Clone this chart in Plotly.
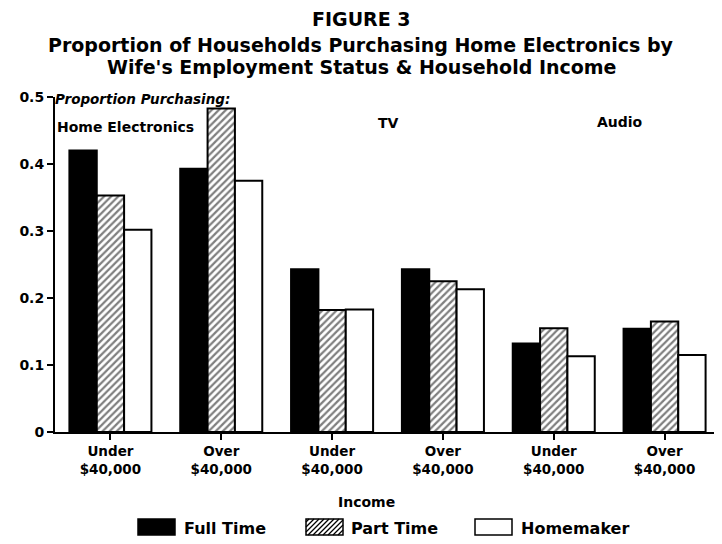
import plotly.graph_objects as go

# ---- data ----
groups = ["Home Electronics", "Home Electronics", "TV", "TV", "Audio", "Audio"]
income_labels = ["Under<br>$40,000", "Over<br>$40,000", "Under<br>$40,000",
                 "Over<br>$40,000", "Under<br>$40,000", "Over<br>$40,000"]
full_time = [0.42, 0.393, 0.243, 0.243, 0.132, 0.154]
part_time = [0.353, 0.483, 0.182, 0.225, 0.155, 0.165]
homemaker = [0.302, 0.375, 0.183, 0.213, 0.113, 0.115]
y_ticks = [0, 0.1, 0.2, 0.3, 0.4, 0.5]

FONT = "DejaVu Sans"
OFF = 8  # page body margin
W, H = 714, 536
L, R, T, B = 47, 2, 89, 112
PW, PH = W - L - R, H - T - B

def px(x):
    return (x - OFF - L) / PW

def py(y):
    return (H - B - (y - OFF)) / PH

xpos = list(range(len(income_labels)))
line = dict(color="black", width=2)

fig = go.Figure()
fig.add_trace(go.Bar(x=xpos, y=full_time, name="Full Time",
                     marker=dict(color="black", line=line)))
fig.add_trace(go.Bar(x=xpos, y=part_time, name="Part Time",
                     marker=dict(color="white", line=line,
                                 pattern=dict(shape="/", fgcolor="black", bgcolor="white",
                                              size=5, solidity=0.45))))
fig.add_trace(go.Bar(x=xpos, y=homemaker, name="Homemaker",
                     marker=dict(color="white", line=line)))

shapes = []
annotations = []

def txt(text, x, y, size, xanchor="center"):
    annotations.append(dict(text=text, x=px(x), y=py(y), xref="paper", yref="paper",
                            showarrow=False, xanchor=xanchor, yanchor="middle",
                            font=dict(family=FONT, size=size, color="black")))

# title
txt("<b>FIGURE 3</b>", 361, 19, 19)
txt("<b>Proportion of Households Purchasing Home Electronics by</b>", 361, 45, 19)
txt("<b>Wife's Employment Status & Household Income</b>", 361, 67, 19)

# panel labels
txt("<b><i>Proportion Purchasing:</i></b>", 53, 99, 13.5, "left")
txt("<b>Home Electronics</b>", 55, 127, 14, "left")
txt("<b>TV</b>", 388, 123, 14)
txt("<b>Audio</b>", 620, 122, 14)

# axis title
txt("<b>Income</b>", 366, 502, 14)

# custom legend
leg = [("Full Time", 138, 175, 182, "black", False),
       ("Part Time", 306, 343, 349, "white", True),
       ("Homemaker", 475, 512, 519, "white", False)]
y0p, y1p = 519, 535
for name, x0, x1, xt, fill, hatch in leg:
    shapes.append(dict(type="rect", xref="paper", yref="paper",
                       x0=px(x0), x1=px(x1), y0=py(y1p), y1=py(y0p),
                       fillcolor=fill, line=dict(color="black", width=1.5)))
    if hatch:
        c = x0 + y0p + 3
        while c < x1 + y1p:
            sy = min(y1p, c - x0)
            sx = c - sy
            ey = max(y0p, c - x1)
            ex = c - ey
            shapes.append(dict(type="line", xref="paper", yref="paper",
                               x0=px(sx), y0=py(sy), x1=px(ex), y1=py(ey),
                               line=dict(color="black", width=1.3)))
            c += 5
    txt("<b>%s</b>" % name, xt, 528, 16, "left")

fig.update_layout(
    width=W, height=H,
    margin=dict(l=L, r=R, t=T, b=B, autoexpand=False),
    paper_bgcolor="white", plot_bgcolor="white",
    barmode="group", bargap=0.26, bargroupgap=0,
    showlegend=False,
    shapes=shapes, annotations=annotations,
    font=dict(family=FONT, color="black"),
)
fig.update_xaxes(range=[-0.5, len(xpos) - 0.5], tickvals=xpos,
                 ticktext=["<b>%s</b>" % t for t in income_labels],
                 showline=True, linecolor="black", linewidth=2,
                 ticks="outside", ticklen=6, tickwidth=1.5, tickcolor="black",
                 showgrid=False, zeroline=False,
                 tickfont=dict(family=FONT, size=13.5, color="black"))
fig.update_yaxes(range=[0, 0.5], tickvals=y_ticks,
                 ticktext=["<b>%g</b>" % v for v in y_ticks],
                 showline=True, linecolor="black", linewidth=2,
                 ticks="outside", ticklen=6, tickwidth=1.5, tickcolor="black",
                 showgrid=False, zeroline=False,
                 tickfont=dict(family=FONT, size=14, color="black"))

fig.write_html("out.html")
